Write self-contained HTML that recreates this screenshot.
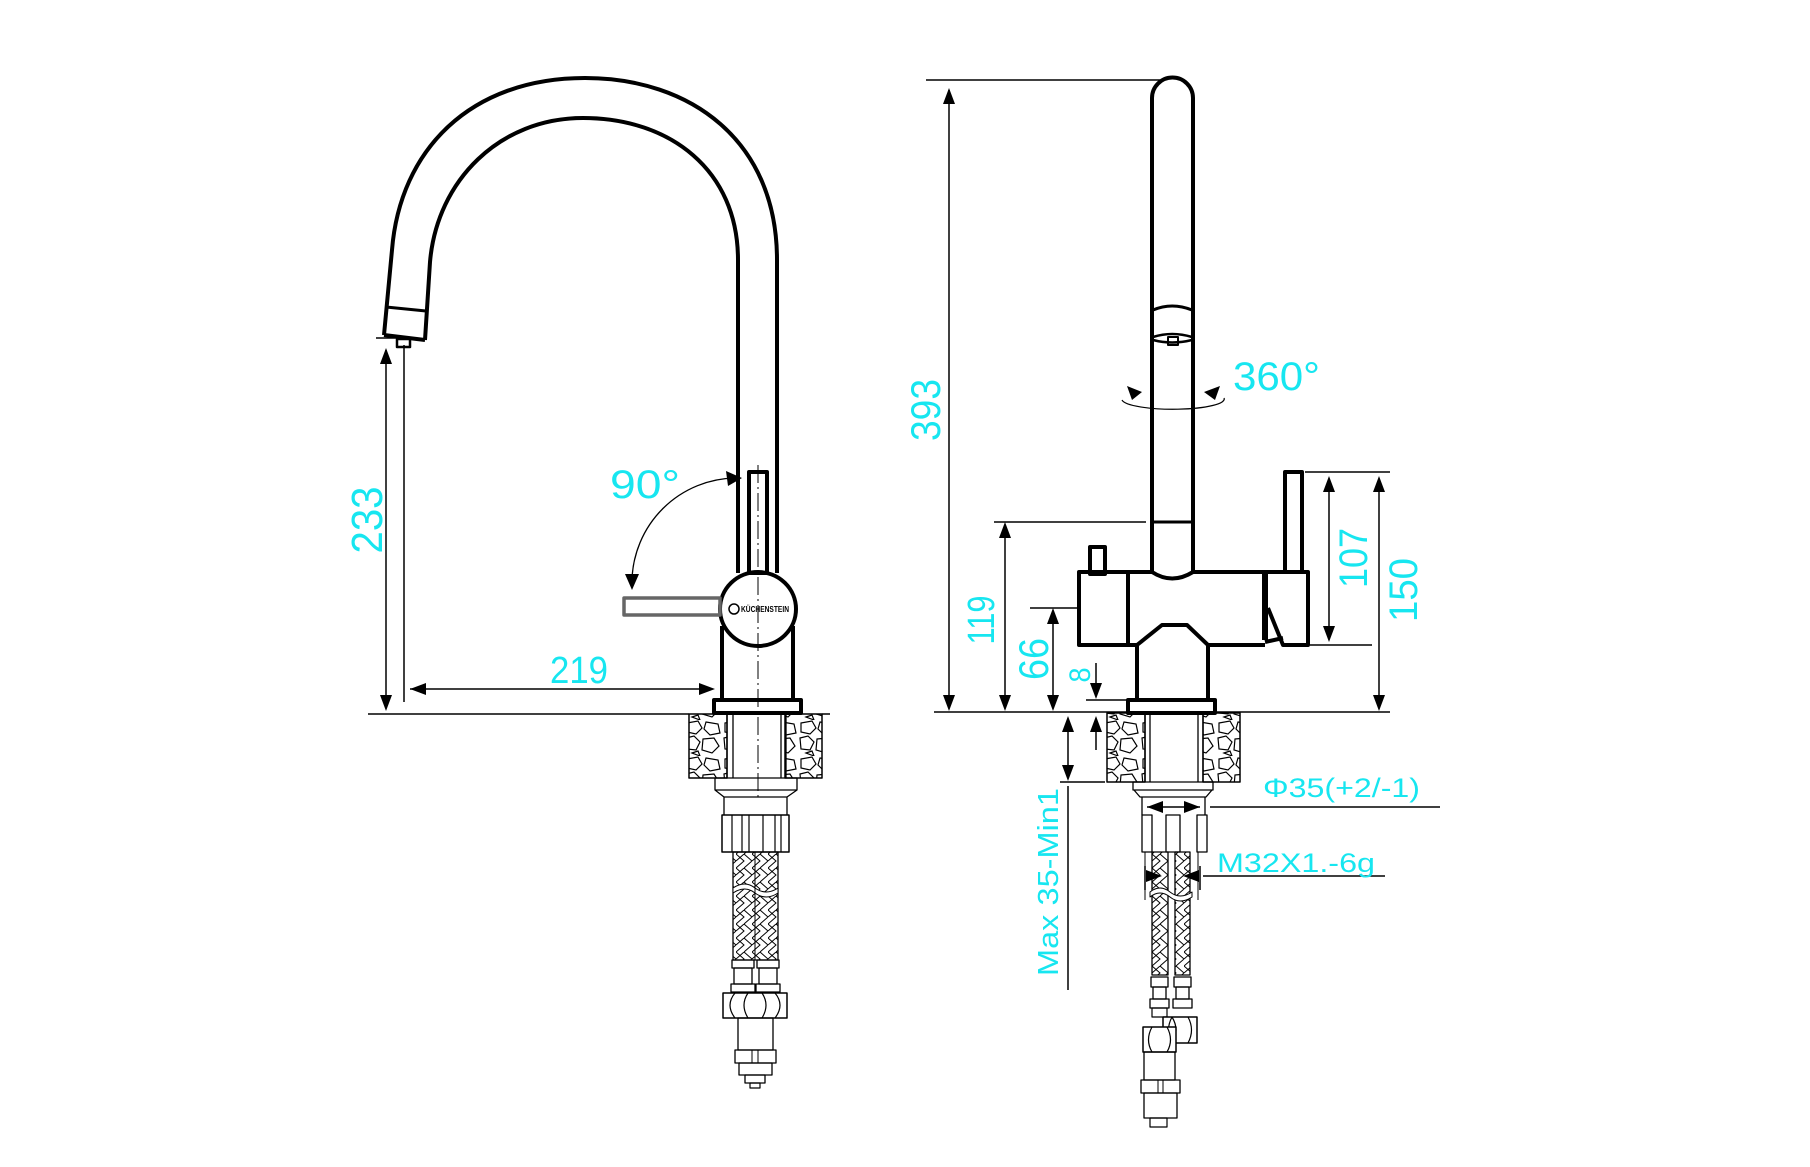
<!DOCTYPE html>
<html><head><meta charset="utf-8"><style>html,body{margin:0;padding:0;background:#fff}svg{display:block}</style></head>
<body>
<svg width="1810" height="1167" viewBox="0 0 1810 1167" xmlns="http://www.w3.org/2000/svg">
<defs>
<pattern id="stone" width="38" height="36" patternUnits="userSpaceOnUse">
<path d="M3,3 L14,1 L18,8 L12,14 L3,12 Z M22,2 L34,4 L36,13 L26,15 L20,9 Z M2,18 L10,16 L16,22 L12,30 L3,29 Z M19,19 L30,18 L35,26 L28,33 L18,30 Z M8,33 L14,31 L16,36 Z" fill="none" stroke="#000" stroke-width="1.2"/>
</pattern>
<pattern id="braid" width="16" height="14" patternUnits="userSpaceOnUse">
<path d="M0,0 L8,7 L0,14 M8,0 L16,7 L8,14 M0,7 L8,0 M8,14 L16,7" fill="none" stroke="#000" stroke-width="1"/>
</pattern>
</defs>
<g fill="none" stroke="#000" stroke-linejoin="round">
<!-- LEFT FAUCET -->
<path d="M777,573 L777,260 C777,140 690,78 585,78 C470,78 400,150 392,250 L384,335" stroke-width="4"/>
<path d="M738,573 L738,260 C738,170 670,118 583,118 C500,118 437,180 430,262 L425,340" stroke-width="4"/>
<path d="M386,307 L426,311" stroke-width="3"/>
<path d="M384,335 L425,340" stroke-width="4"/>
<rect x="397" y="339" width="13" height="8" stroke-width="2.5"/>
<rect x="749" y="472" width="18" height="101" stroke-width="4"/>
<ellipse cx="758" cy="609" rx="38" ry="37" stroke-width="4"/>
<path d="M722,626 L722,700 M793,626 L793,700" stroke-width="4"/>
<rect x="714" y="700" width="87" height="13" stroke-width="4"/>
<rect x="624" y="598" width="96" height="17" stroke="#666" stroke-width="3.5"/>
<path d="M758,465 L758,800" stroke-width="1" stroke-dasharray="18,4,2,4"/>
<path d="M735,478 A105,105 0 0 0 632,580" stroke-width="1.3"/>
<polygon points="742,478 726,471 728,486" fill="#000" stroke="none"/>
<polygon points="632,590 625,574 639,574" fill="#000" stroke="none"/>
<!-- left countertop -->
<rect x="689" y="714" width="38" height="64" fill="url(#stone)" stroke-width="1.5"/>
<rect x="785" y="714" width="37" height="64" fill="url(#stone)" stroke-width="1.5"/>
<path d="M727,714 V778 M733,714 V778 M781,714 V778 M786,714 V778" stroke-width="1.3"/>
<path d="M715,778 H797 V790 H715 Z M715,790 L724,797 H787 L797,790 M724,797 V815 M787,797 V815" stroke-width="1.3"/>
<rect x="722" y="815" width="67" height="37" stroke-width="1.5"/>
<path d="M732,815 V852 M742,815 V852 M749,815 V852 M763,815 V852 M775,815 V852 M781,815 V852" stroke-width="1.2"/>
<rect x="733" y="852" width="45" height="108" fill="url(#braid)" stroke-width="1.3"/>
<path d="M733,888 Q745,880 755,888 Q766,896 778,888 L778,893 Q766,901 755,893 Q745,885 733,893 Z" fill="#fff" stroke-width="1"/>
<path d="M755,852 V960" stroke-width="1"/>
<rect x="732" y="960" width="22" height="8" stroke-width="1.3"/><rect x="757" y="960" width="22" height="8" stroke-width="1.3"/>
<rect x="734" y="968" width="18" height="16" stroke-width="1.3"/><rect x="759" y="968" width="18" height="16" stroke-width="1.3"/>
<rect x="731" y="984" width="24" height="8" stroke-width="1.3"/><rect x="756" y="984" width="24" height="8" stroke-width="1.3"/>
<rect x="723" y="993" width="64" height="25" stroke-width="1.5"/>
<path d="M735,993 Q725,1005 735,1018 M748,993 Q740,1005 748,1018 M762,993 Q770,1005 762,1018 M775,993 Q785,1005 775,1018" stroke-width="1.2"/>
<rect x="738" y="1018" width="35" height="32" stroke-width="1.3"/>
<rect x="735" y="1050" width="41" height="13" stroke-width="1.3"/>
<path d="M752,1050 V1063 M758,1050 V1063" stroke-width="1"/>
<rect x="739" y="1063" width="33" height="12" stroke-width="1.3"/>
<rect x="745" y="1075" width="20" height="8" stroke-width="1.3"/>
<rect x="750" y="1083" width="10" height="5" stroke-width="1.2"/>
<!-- left dims -->
<path d="M386,350 V708 M404,345 V702 M376,338 H402 M410,689 H712 M368,714 H689 M822,714 H830" stroke-width="1.5"/>
<polygon points="386,348 380,364 392,364" fill="#000" stroke="none"/>
<polygon points="386,711 380,695 392,695" fill="#000" stroke="none"/>
<polygon points="410,689 426,683 426,695" fill="#000" stroke="none"/>
<polygon points="715,689 699,683 699,695" fill="#000" stroke="none"/>

<!-- RIGHT FAUCET -->
<path d="M1152,572 L1152,98 A20.5,20.5 0 0 1 1193,98 L1193,572 Q1172,585 1152,572" stroke-width="4"/>
<path d="M1152,522 H1193" stroke-width="3"/>
<path d="M1153,310 Q1172,302 1192,310" stroke-width="3"/>
<path d="M1153,337 Q1172,331 1192,337 M1153,340 Q1172,345 1192,340" stroke-width="2.5"/>
<rect x="1168" y="337" width="10" height="8" stroke-width="2"/>
<path d="M1122,400 A50,10 0 1 0 1224,398" stroke-width="1.2"/>
<polygon points="1142,392 1127,386 1132,400" fill="#000" stroke="none"/>
<polygon points="1204,392 1220,386 1215,400" fill="#000" stroke="none"/>
<rect x="1079" y="572" width="49" height="73" stroke-width="4"/>
<path d="M1128,572 H1152 M1193,572 H1265 M1128,645 H1137 M1208,645 H1265" stroke-width="4"/>
<path d="M1265,572 V640" stroke-width="6"/>
<path d="M1265,572 H1308 V645 H1283 L1268,608 M1265,642 L1283,638" stroke-width="4"/>
<rect x="1090" y="547" width="15" height="27" stroke-width="4"/>
<rect x="1285" y="472" width="17" height="100" stroke-width="4"/>
<path d="M1137,700 V645 L1162,625 H1187 L1208,645 V700" stroke-width="4"/>
<rect x="1128" y="700" width="87" height="13" stroke-width="4"/>
<!-- right countertop -->
<rect x="1107" y="713" width="38" height="69" fill="url(#stone)" stroke-width="1.5"/>
<rect x="1203" y="713" width="37" height="69" fill="url(#stone)" stroke-width="1.5"/>
<path d="M1145,713 V782 M1150,713 V782 M1198,713 V782 M1203,713 V782" stroke-width="1.3"/>
<path d="M1133,782 H1213 V790 H1133 Z M1134,790 L1140,797 H1206 L1212,790 M1142,797 V815 M1205,797 V815" stroke-width="1.3"/>
<path d="M1142,815 H1152 V852 H1142 Z M1166,815 H1180 V852 H1166 Z M1197,815 H1207 V852 H1197 Z" stroke-width="1.3"/>
<rect x="1152" y="852" width="16" height="123" fill="url(#braid)" stroke-width="1.3"/>
<rect x="1175" y="852" width="15" height="123" fill="url(#braid)" stroke-width="1.3"/>
<path d="M1150,892 Q1160,884 1170,892 Q1180,900 1192,892 L1192,897 Q1180,905 1170,897 Q1160,889 1150,897 Z" fill="#fff" stroke-width="1"/>
<path d="M1145,852 V900 M1198,852 V900" stroke-width="1"/>
<rect x="1151" y="977" width="17" height="10" stroke-width="1.3"/><rect x="1174" y="977" width="17" height="10" stroke-width="1.3"/>
<rect x="1153" y="987" width="13" height="12" stroke-width="1.3"/><rect x="1176" y="987" width="13" height="12" stroke-width="1.3"/>
<rect x="1150" y="999" width="19" height="9" stroke-width="1.3"/><rect x="1173" y="999" width="19" height="9" stroke-width="1.3"/>
<rect x="1152" y="1008" width="15" height="9" stroke-width="1.2"/>
<rect x="1163" y="1017" width="34" height="26" fill="#fff" stroke-width="1.5"/>
<path d="M1172,1017 Q1165,1030 1172,1043 M1188,1017 Q1195,1030 1188,1043 M1172,1017 Q1180,1030 1172,1043" stroke-width="1.2"/>
<rect x="1143" y="1027" width="33" height="25" fill="#fff" stroke-width="1.5"/>
<path d="M1152,1027 Q1145,1040 1152,1052 M1167,1027 Q1174,1040 1167,1052" stroke-width="1.2"/>
<rect x="1144" y="1052" width="31" height="28" stroke-width="1.3"/>
<rect x="1141" y="1080" width="39" height="13" stroke-width="1.3"/>
<path d="M1158,1080 V1093 M1163,1080 V1093" stroke-width="1"/>
<rect x="1144" y="1093" width="33" height="25" stroke-width="1.3"/>
<rect x="1150" y="1118" width="17" height="9" stroke-width="1.2"/>
<!-- right dims -->
<path d="M926,80 H1160 M949,90 V708 M934,712 H1128 M1215,712 H1390 M994,522 H1146 M1005,532 V708 M1030,608 H1077 M1053,618 V708 M1086,700 H1128 M1096,663 V695 M1096,725 V750 M1068,725 V775 M1060,782 H1105 M1068,786 V990 M1305,472 H1390 M1310,645 H1372 M1329,488 V633 M1379,488 V702 M1147,807 H1200 M1210,807 H1440 M1203,876 H1385 M1145,866 V890 M1200,866 V890" stroke-width="1.5"/>
<polygon points="949,88 943,104 955,104" fill="#000" stroke="none"/>
<polygon points="949,711 943,695 955,695" fill="#000" stroke="none"/>
<polygon points="1005,522 999,538 1011,538" fill="#000" stroke="none"/>
<polygon points="1005,711 999,695 1011,695" fill="#000" stroke="none"/>
<polygon points="1053,608 1047,624 1059,624" fill="#000" stroke="none"/>
<polygon points="1053,711 1047,695 1059,695" fill="#000" stroke="none"/>
<polygon points="1096,699 1090,683 1102,683" fill="#000" stroke="none"/>
<polygon points="1096,716 1090,732 1102,732" fill="#000" stroke="none"/>
<polygon points="1068,716 1062,732 1074,732" fill="#000" stroke="none"/>
<polygon points="1068,781 1062,765 1074,765" fill="#000" stroke="none"/>
<polygon points="1329,476 1323,492 1335,492" fill="#000" stroke="none"/>
<polygon points="1329,642 1323,626 1335,626" fill="#000" stroke="none"/>
<polygon points="1379,476 1373,492 1385,492" fill="#000" stroke="none"/>
<polygon points="1379,711 1373,695 1385,695" fill="#000" stroke="none"/>
<polygon points="1147,807 1163,801 1163,813" fill="#000" stroke="none"/>
<polygon points="1200,807 1184,801 1184,813" fill="#000" stroke="none"/>
<polygon points="1162,876 1146,870 1146,882" fill="#000" stroke="none"/>
<polygon points="1183,876 1199,870 1199,882" fill="#000" stroke="none"/>
</g>
<g>
<circle cx="734" cy="609" r="5" fill="none" stroke="#000" stroke-width="1.5"/>
<text x="741" y="612" font-family="Liberation Sans, sans-serif" font-size="8" font-weight="bold" textLength="48" lengthAdjust="spacingAndGlyphs">KÜCHENSTEIN</text>
</g>
<g fill="#17e6f0" font-family="Liberation Sans, sans-serif">
<text x="610" y="498" font-size="40" textLength="70" lengthAdjust="spacingAndGlyphs">90°</text>
<text x="550" y="683" font-size="38" textLength="58" lengthAdjust="spacingAndGlyphs">219</text>
<text transform="translate(382,520) rotate(-90)" text-anchor="middle" font-size="44" textLength="67" lengthAdjust="spacingAndGlyphs">233</text>
<text transform="translate(940,410) rotate(-90)" text-anchor="middle" font-size="42" textLength="62" lengthAdjust="spacingAndGlyphs">393</text>
<text x="1233" y="390" font-size="40" textLength="87" lengthAdjust="spacingAndGlyphs">360°</text>
<text transform="translate(994,620) rotate(-90)" text-anchor="middle" font-size="38" textLength="49" lengthAdjust="spacingAndGlyphs">119</text>
<text transform="translate(1048,659) rotate(-90)" text-anchor="middle" font-size="42" textLength="42" lengthAdjust="spacingAndGlyphs">66</text>
<text transform="translate(1090,675) rotate(-90)" text-anchor="middle" font-size="30" textLength="15" lengthAdjust="spacingAndGlyphs">8</text>
<text transform="translate(1367,558) rotate(-90)" text-anchor="middle" font-size="40" textLength="60" lengthAdjust="spacingAndGlyphs">107</text>
<text transform="translate(1417,590) rotate(-90)" text-anchor="middle" font-size="40" textLength="64" lengthAdjust="spacingAndGlyphs">150</text>
<text transform="translate(1058,882) rotate(-90)" text-anchor="middle" font-size="29" textLength="188" lengthAdjust="spacingAndGlyphs">Max 35-Min1</text>
<text x="1263" y="797" font-size="27" textLength="157" lengthAdjust="spacingAndGlyphs">Φ35(+2/-1)</text>
<text x="1217" y="872" font-size="27" textLength="158" lengthAdjust="spacingAndGlyphs">M32X1.-6g</text>
</g>
</svg>
</body></html>
